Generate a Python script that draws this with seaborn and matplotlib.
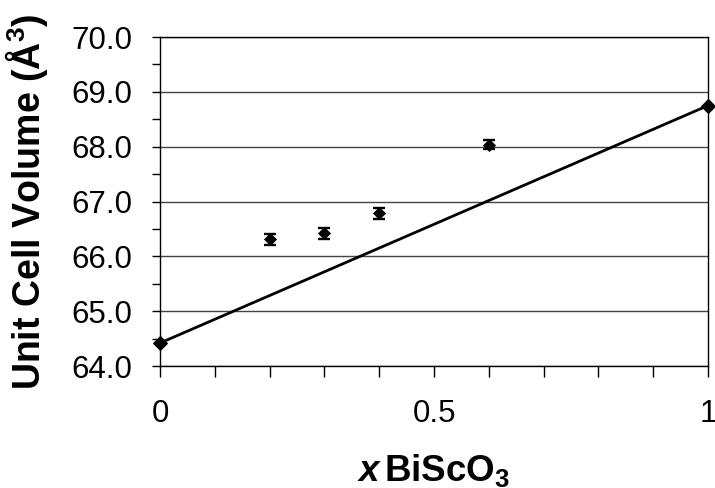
import matplotlib
matplotlib.use("Agg")
import matplotlib.pyplot as plt
from matplotlib.ticker import MultipleLocator, FixedLocator, FormatStrFormatter
import seaborn as sns
import pandas as pd

# Vegard's law end members
end_x = [0.0, 1.0]
end_v = [64.42, 68.75]

# Measured solid-solution compositions
meas_x = [0.2, 0.3, 0.4, 0.6]
meas_v = [66.31, 66.42, 66.79, 68.04]
meas_err = [0.10, 0.10, 0.10, 0.09]

sns.set_theme(style="ticks")
plt.rcParams["font.family"] = ["Liberation Sans", "DejaVu Sans"]
plt.rcParams["mathtext.fontset"] = "custom"
plt.rcParams["mathtext.rm"] = "Liberation Sans"
plt.rcParams["mathtext.bf"] = "Liberation Sans:bold"
plt.rcParams["mathtext.it"] = "Liberation Sans:italic"
plt.rcParams["mathtext.bfit"] = "Liberation Sans:bold:italic"
for key in ("text.color", "axes.labelcolor", "xtick.color", "ytick.color",
            "xtick.labelcolor", "ytick.labelcolor"):
    plt.rcParams[key] = "black"

fig = plt.figure(figsize=(7.15, 4.88), dpi=100)
ax = fig.add_axes([0.224, 0.25, 0.766, 0.674])

ends = pd.DataFrame({"x": end_x, "v": end_v})
meas = pd.DataFrame({"x": meas_x, "v": meas_v})

sns.lineplot(data=ends, x="x", y="v", ax=ax, color="black", linewidth=2.0,
             marker="D", markersize=7.5, markeredgecolor="black", zorder=4,
             clip_on=False)
ax.errorbar(meas_x, meas_v, yerr=meas_err, fmt="none", ecolor="black",
            elinewidth=1.4, capsize=4, capthick=1.7, zorder=5)
sns.scatterplot(data=meas, x="x", y="v", ax=ax, color="black", marker="D",
                s=38, edgecolor="black", zorder=6)

ax.set_xlim(0, 1)
ax.set_ylim(64, 70)
ax.xaxis.set_major_locator(FixedLocator([0, 0.5, 1]))
ax.xaxis.set_minor_locator(MultipleLocator(0.1))
ax.yaxis.set_major_locator(MultipleLocator(1))
ax.yaxis.set_minor_locator(MultipleLocator(0.5))
ax.set_xticklabels(["0", "0.5", "1"])
ax.yaxis.set_major_formatter(FormatStrFormatter("%.1f"))

ax.grid(axis="y", which="major", color="#444444", linewidth=1.0)
ax.set_axisbelow(True)
for s in ax.spines.values():
    s.set_color("black")
    s.set_linewidth(1.0)

ax.tick_params(axis="y", which="both", direction="out", length=6,
               width=1.0, color="black")
ax.tick_params(axis="x", which="both", direction="out", length=8,
               width=1.0, color="black")
ax.tick_params(axis="y", which="major", labelsize=22.5, pad=14)
ax.tick_params(axis="x", which="major", labelsize=22.5, pad=16)

ax.set_ylabel(r"Unit Cell Volume (Å$^\mathbf{3}$)", fontsize=27,
              fontweight="bold")
ax.set_xlabel(r"$\mathbfit{x}\,\mathbf{BiScO_3}$", fontsize=26.5)
ax.yaxis.set_label_coords(-0.202, 0.5)
ax.xaxis.set_label_coords(0.5, -0.262)

fig.savefig("out.png", dpi=100)
